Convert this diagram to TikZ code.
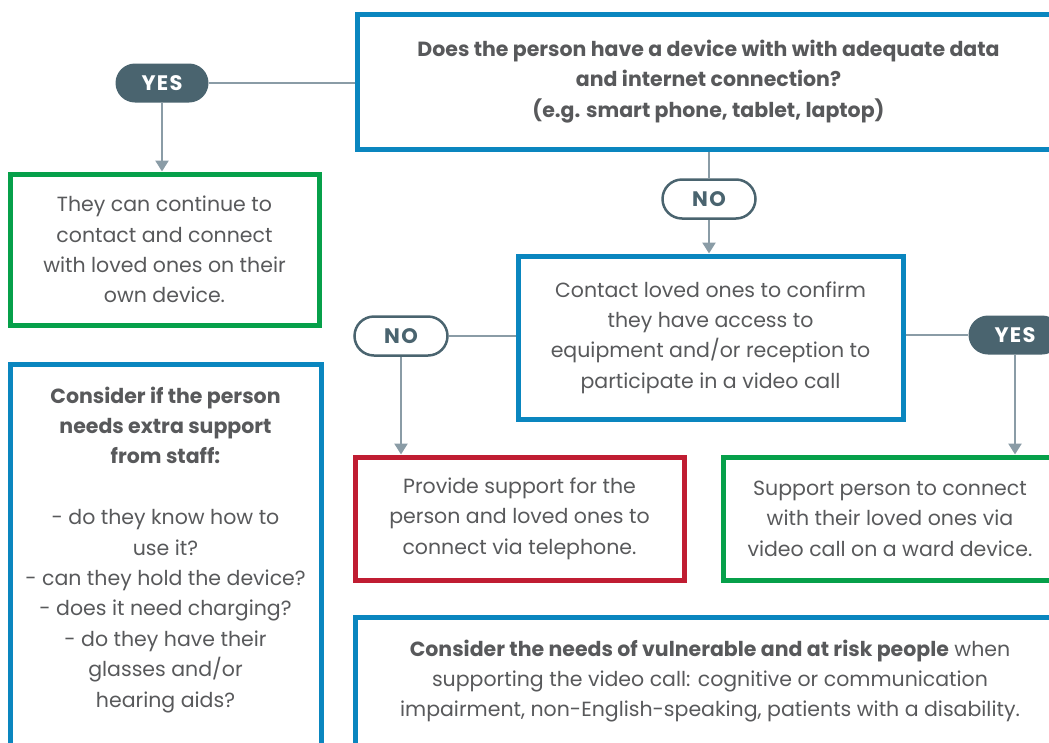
\documentclass[tikz,border=0pt]{standalone}
\usepackage{fontspec}
\setmainfont{Poppins}
\usepackage{tikz}
\usetikzlibrary{arrows.meta}
\usetikzlibrary{shapes.misc}
\definecolor{boxblue}{HTML}{0A86BF}
\definecolor{boxgreen}{HTML}{06A04A}
\definecolor{boxred}{HTML}{C01D32}
\definecolor{txtgray}{HTML}{58595B}
\definecolor{pilldark}{HTML}{4A646F}
\definecolor{linegray}{HTML}{8A9CA6}
\newcommand\bodyfont{\fontsize{20.5}{30.4}\selectfont}
\newcommand\pillfont{\fontsize{21}{24}\selectfont\bfseries\addfontfeatures{LetterSpace=6}}
\tikzset{x=1pt, y=-1pt,
	box/.style={
		draw,
		line width=5pt,
		fill=white,
		align=center,
		inner sep=0pt,
		text=txtgray,
		font=\bodyfont},
	bluebox/.style={box, draw=boxblue},
	greenbox/.style={box, draw=boxgreen},
	redbox/.style={box, draw=boxred},
	pill/.style={
		rounded rectangle,
		minimum width=93pt,
		minimum height=39pt,
		inner sep=0pt,
		font=\pillfont},
	yespill/.style={pill, fill=pilldark, text=white},
	nopill/.style={pill, draw=pilldark, line width=2.5pt, fill=white, text=pilldark},
	link/.style={draw=linegray, line width=2.5pt},
	linkarrow/.style={link, -{Triangle[width=13pt,length=11pt]}}
}

\begin{document}
\begin{tikzpicture}
	\useasboundingbox (0,0) rectangle (1049,742);
	\clip (0,0) rectangle (1049,742);
	% question boxes
	\node[bluebox, minimum width=703pt, minimum height=135pt] (device) at (708.5,81.5)
		{\textbf{Does the person have a device with with adequate data}\\ \textbf{and internet connection?}\\ \textbf{(e.g. smart phone, tablet, laptop)}};
	\node[bluebox, minimum width=385pt, minimum height=163pt] (confirm) at (710.5,337.5)
		{Contact loved ones to confirm\\ they have access to\\ equipment and/or reception to\\ participate in a video call};
	% outcome boxes
	\node[greenbox, minimum width=309pt, minimum height=151pt] (own) at (164.5,249.5)
		{They can continue to\\ contact and connect\\ with loved ones on their\\ own device.};
	\node[redbox, minimum width=329pt, minimum height=123pt] (phone) at (519.5,518.5)
		{Provide support for the\\ person and loved ones to\\ connect via telephone.};
	\node[greenbox, minimum width=334pt, minimum height=123pt] (ward) at (890,518.5)
		{Support person to connect\\ with their loved ones via\\ video call on a ward device.};
	% notes
	\node[bluebox, minimum width=311pt, minimum height=396pt] (staff) at (165.5,562)
		{\textbf{Consider if the person}\\ \textbf{needs extra support}\\ \textbf{from staff:}\\ \mbox{}\\
		- do they know how to\\ use it?\\ - can they hold the device?\\ - does it need charging?\\
		- do they have their\\ glasses and/or\\ hearing aids?\\ \mbox{}};
	\node[bluebox, minimum width=710pt, minimum height=128pt] (needs) at (710,681)
		{\textbf{Consider the needs of vulnerable and at risk people} when\\ supporting the video call: cognitive or communication\\ impairment, non-English-speaking, patients with a disability.};
	% answers
	\node[yespill] (yes1) at (162,83) {YES};
	\node[nopill] (no1) at (709,199) {NO};
	\node[nopill] (no2) at (401,336) {NO};
	\node[yespill] (yes2) at (1015,335) {YES};
	% connectors
	\draw[link] (yes1.east) -- (yes1.east -| device.west);
	\draw[linkarrow] (yes1.south) -- (yes1.south |- own.north);
	\draw[link] (no1.north |- device.south) -- (no1.north);
	\draw[linkarrow] (no1.south) -- (no1.south |- confirm.north);
	\draw[link] (no2.east) -- (no2.east -| confirm.west);
	\draw[linkarrow] (no2.south) -- (no2.south |- phone.north);
	\draw[link] (confirm.east |- yes2.west) -- (yes2.west);
	\draw[linkarrow] (yes2.south) -- (yes2.south |- ward.north);
\end{tikzpicture}
\end{document}
